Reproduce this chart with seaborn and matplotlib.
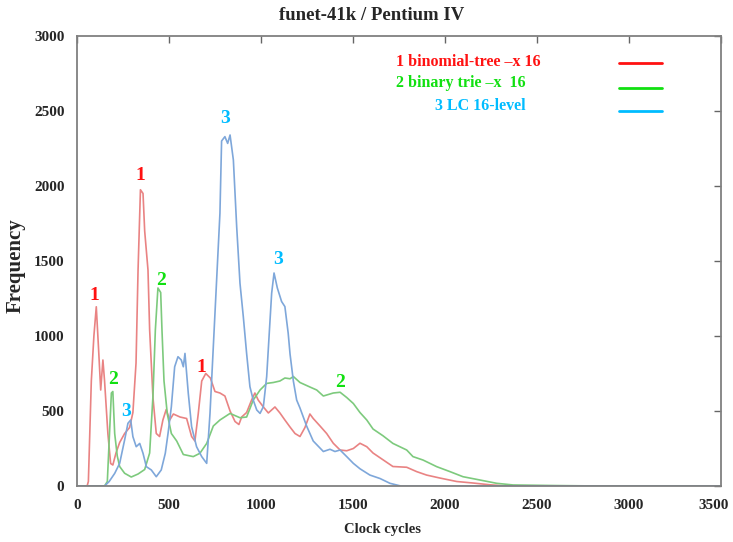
import matplotlib
matplotlib.use("Agg")
import matplotlib.pyplot as plt
import matplotlib.transforms as mtransforms
import pandas as pd
import seaborn as sns

# values (clock cycles -> frequency)
red_x = [0, 55, 62, 78, 92, 105, 118, 129, 141, 150,
         168, 183, 195, 212, 232, 259, 286, 304, 321, 332,
         345, 359, 368, 386, 395, 413, 431, 449, 467, 485,
         504, 524, 560, 596, 623, 641, 659, 678, 700, 725,
         750, 777, 804, 832, 859, 880, 895, 922, 949, 967,
         985, 1013, 1040, 1076, 1103, 1130, 1158, 1185, 1212, 1239,
         1266, 1284, 1321, 1357, 1393, 1430, 1466, 1502, 1538, 1575,
         1609, 1663, 1717, 1792, 1846, 1900, 1973, 2064, 2152, 2245,
         2335, 3500]
red_y = [0, 0, 30, 700, 1000, 1195, 900, 640, 840, 700,
         350, 150, 140, 220, 290, 350, 390, 490, 820, 1440,
         1975, 1950, 1700, 1440, 1040, 590, 350, 330, 440, 510,
         440, 480, 460, 450, 330, 300, 480, 700, 750, 720,
         630, 620, 600, 500, 430, 410, 460, 490, 573, 620,
         573, 527, 487, 527, 487, 440, 393, 350, 330, 390,
         480, 450, 400, 350, 285, 240, 235, 250, 285, 262,
         220, 175, 130, 125, 96, 73, 53, 30, 20, 8,
         0, 0]

green_x = [0, 150, 165, 175, 187, 195, 205, 219, 232, 259,
           295, 332, 368, 395, 413, 426, 440, 455, 462, 473,
           491, 513, 542, 578, 632, 668, 705, 741, 777, 832,
           886, 922, 958, 995, 1031, 1067, 1103, 1130, 1158, 1176,
           1212, 1266, 1303, 1339, 1393, 1430, 1466, 1502, 1538, 1575,
           1609, 1663, 1717, 1792, 1826, 1881, 1955, 2027, 2098, 2190,
           2281, 2370, 2600, 2850, 3500]
green_y = [0, 0, 30, 300, 620, 630, 350, 200, 130, 85,
           60, 80, 110, 220, 600, 1040, 1320, 1290, 1040, 700,
           480, 350, 300, 210, 196, 218, 284, 400, 440, 484,
           455, 460, 573, 640, 684, 690, 700, 720, 715, 730,
           690, 660, 640, 600, 620, 625, 590, 550, 490, 440,
           380, 335, 284, 240, 196, 173, 129, 96, 62, 40,
           18, 7, 3, 0, 0]

blue_x = [0, 150, 175, 205, 232, 259, 277, 292, 304, 322,
          341, 359, 377, 404, 431, 458, 480, 495, 513, 531,
          549, 567, 578, 587, 605, 623, 650, 678, 705, 723,
          741, 759, 777, 786, 804, 819, 832, 850, 868, 886,
          904, 922, 940, 958, 977, 995, 1013, 1031, 1045, 1058,
          1071, 1089, 1112, 1130, 1148, 1158, 1176, 1194, 1212, 1248,
          1284, 1339, 1375, 1402, 1430, 1466, 1502, 1538, 1592, 1647,
          1701, 1760, 3500]
blue_y = [0, 0, 30, 84, 151, 307, 418, 440, 329, 262,
          284, 218, 129, 107, 62, 107, 218, 351, 529, 795,
          862, 840, 795, 884, 618, 396, 262, 196, 151, 484,
          929, 1373, 1818, 2300, 2329, 2284, 2340, 2173, 1729, 1351,
          1129, 884, 662, 573, 507, 484, 529, 729, 1018, 1284,
          1420, 1320, 1230, 1196, 1018, 880, 700, 573, 520, 400,
          300, 230, 245, 230, 240, 196, 151, 115, 73, 50,
          18, 0, 0]

series_names = ["1 binomial-tree \u2013x 16", "2 binary trie \u2013x  16", "3 LC 16-level"]
line_colors = ["#e98383", "#7dca7d", "#7ea7da"]
text_colors = ["#ff1111", "#11e011", "#00bcff"]

# peak labels: (text, cycles, frequency, series index)
peak_labels = [("1", 92, 1267, 0), ("1", 342, 2067, 0), ("1", 674, 787, 0),
               ("2", 196, 707, 1), ("2", 457, 1373, 1), ("2", 1429, 687, 1),
               ("3", 266, 500, 2), ("3", 804, 2453, 2), ("3", 1092, 1507, 2)]

sns.set_style("white")
plt.rcParams['font.family'] = ['Liberation Serif', 'DejaVu Serif']
plt.rcParams['font.weight'] = 'bold'

df = pd.concat([
    pd.DataFrame({'cycles': red_x, 'freq': red_y, 'series': series_names[0]}),
    pd.DataFrame({'cycles': green_x, 'freq': green_y, 'series': series_names[1]}),
    pd.DataFrame({'cycles': blue_x, 'freq': blue_y, 'series': series_names[2]}),
], ignore_index=True)

fig = plt.figure(figsize=(7.33, 5.42), dpi=100)
ax = fig.add_axes([0.105, 0.1033, 0.8786, 0.8303])

sns.lineplot(data=df, x='cycles', y='freq', hue='series', hue_order=series_names,
             palette=line_colors, estimator=None, sort=False, lw=1.2,
             legend=False, ax=ax)

ax.set_xlim(0, 3500)
ax.set_ylim(0, 3000)
ax.set_xticks(range(0, 3501, 500))
ax.set_yticks(range(0, 3001, 500))
ax.tick_params(direction='in', top=True, right=True, length=5, width=1,
               color='0.4', labelsize=11, pad=9)
for s in ax.spines.values():
    s.set_color('0.5')
    s.set_linewidth(1.3)

# last x tick label sits a little left of its tick, inside the picture
fig.canvas.draw()
last = ax.get_xticklabels()[-1]
last.set_transform(last.get_transform() +
                   mtransforms.ScaledTranslation(-7 / 100, 0, fig.dpi_scale_trans))

ax.set_xlabel("Clock cycles", fontsize=10.5, fontweight='bold')
ax.xaxis.set_label_coords(0.475, -0.082)
ax.set_ylabel("Frequency", fontsize=15, fontweight='bold')
ax.yaxis.set_label_coords(-0.08, 0.49)

fig.text(0.5075, 0.972, "funet-41k / Pentium IV", ha='center', va='center',
         fontsize=13.5, fontweight='bold')

for txt, cx, cy, k in peak_labels:
    ax.text(cx, cy, txt, color=text_colors[k], fontsize=14, fontweight='bold',
            ha='center', va='center')

# gnuplot-style key: text on the left, short line on the right
key_text = [(0.495, 0.943, 'left'), (0.495, 0.895, 'left'), (0.696, 0.844, 'right')]
key_line_y = [0.941, 0.884, 0.834]
for i, name in enumerate(series_names):
    tx, ty, ha = key_text[i]
    ax.text(tx, ty, name, transform=ax.transAxes, color=text_colors[i],
            fontsize=11.5, fontweight='bold', ha=ha, va='center')
    ax.plot([0.842, 0.908], [key_line_y[i], key_line_y[i]], transform=ax.transAxes,
            color=text_colors[i], lw=2)

fig.savefig("out.png", dpi=100)
